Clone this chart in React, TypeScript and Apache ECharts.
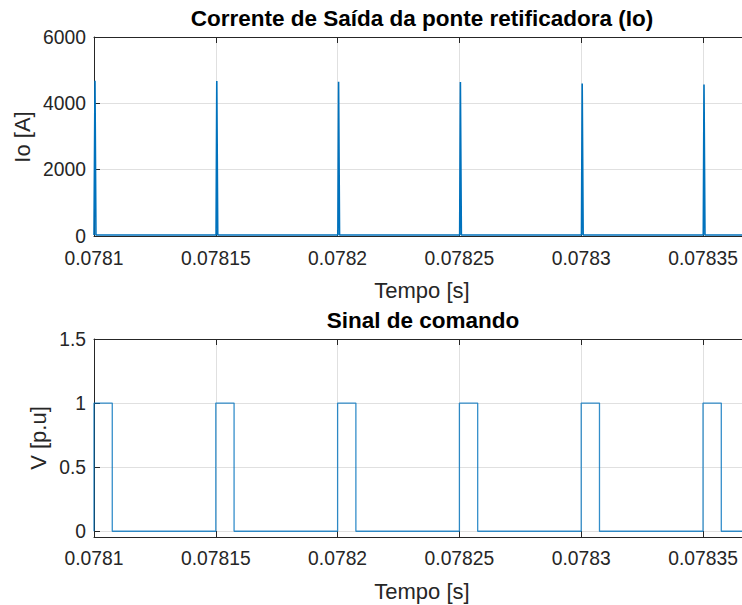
import React, { useEffect, useRef } from "react";
import * as echarts from "echarts";

// ---- Data ----
// X tick labels (seconds)
const xTickStart = 0.0781;
const xTickStep = 0.00005;
const xEnd = 0.078366;

// Top plot: output current Io [A] (narrow spikes at each period start)
const ioTime = [
  0.0781, 0.0781001, 0.0781004, 0.0781008,
  0.0781501, 0.0781504, 0.0781508,
  0.0782001, 0.0782004, 0.0782008,
  0.0782501, 0.0782504, 0.0782508,
  0.0783001, 0.0783004, 0.0783008,
  0.0783501, 0.0783504, 0.0783508,
  0.078366,
];
const ioValue = [
  30, 30, 4680, 30,
  30, 4670, 30,
  30, 4650, 30,
  30, 4640, 30,
  30, 4600, 30,
  30, 4570, 30,
  30,
];

// Bottom plot: command signal V [p.u]
const cmdTime = [
  0.0781, 0.0781, 0.0781075, 0.0781075,
  0.07815, 0.07815, 0.0781575, 0.0781575,
  0.0782, 0.0782, 0.0782075, 0.0782075,
  0.07825, 0.07825, 0.0782575, 0.0782575,
  0.0783, 0.0783, 0.0783075, 0.0783075,
  0.07835, 0.07835, 0.0783575, 0.0783575,
  0.078366,
];
const cmdValue = [
  0, 1, 1, 0,
  0, 1, 1, 0,
  0, 1, 1, 0,
  0, 1, 1, 0,
  0, 1, 1, 0,
  0, 1, 1, 0,
  0,
];

// Y axis ranges / ticks
const ioYMin = 0;
const ioYMax = 6000;
const ioYStep = 2000;
const cmdYMin = -0.045;
const cmdYMax = 1.5;
const cmdYStep = 0.5;

const titleTop = "Corrente de Saída da ponte retificadora (Io)";
const titleBottom = "Sinal de comando";
const yLabelTop = "Io [A]";
const yLabelBottom = "V [p.u]";
const xLabel = "Tempo [s]";

const FONT = '"Liberation Sans", Arial, Helvetica, sans-serif';
const AX = "#262626";
const GRIDC = "#e0e0e0";
const LINE = "#0072BD";

function pairs(t: number[], v: number[]) {
  return t.map((x, i) => [x, v[i]]);
}

const xFmt = (v: number) => {
  const r = Math.round((v - xTickStart) / xTickStep);
  if (Math.abs(xTickStart + r * xTickStep - v) > 1e-9) return "";
  return String(parseFloat(v.toFixed(5)));
};

function bottomX(gridIndex: number, margin: number) {
  return {
    type: "value",
    gridIndex,
    position: "bottom",
    min: xTickStart,
    max: xEnd,
    interval: xTickStep,
    axisLine: { show: true, onZero: false, lineStyle: { color: AX, width: 1 } },
    axisTick: { show: true, inside: true, length: 6, lineStyle: { color: AX } },
    axisLabel: {
      show: true,
      margin,
      color: AX,
      fontSize: 19.3,
      fontFamily: FONT,
      showMaxLabel: false,
      formatter: xFmt,
    },
    splitLine: { show: true, lineStyle: { color: GRIDC, width: 1 } },
  };
}

function topX(gridIndex: number) {
  return {
    type: "value",
    gridIndex,
    position: "top",
    min: xTickStart,
    max: xEnd,
    interval: xTickStep,
    axisLine: { show: true, onZero: false, lineStyle: { color: AX, width: 1 } },
    axisTick: { show: true, inside: true, length: 6, lineStyle: { color: AX } },
    axisLabel: { show: false },
    splitLine: { show: false },
  };
}

export default function App() {
  const ref = useRef<HTMLDivElement>(null);
  useEffect(() => {
    if (!ref.current) return;
    const chart = echarts.init(ref.current, undefined, { renderer: "svg" });
    const yLabelStyle = {
      color: AX,
      fontSize: 19.3,
      fontFamily: FONT,
      margin: 8,
      verticalAlign: "middle",
      padding: [6, 0, 0, 0],
    };
    chart.setOption({
      animation: false,
      backgroundColor: "#ffffff",
      grid: [
        { left: 94, top: 37, right: 0, height: 199 },
        { left: 94, top: 339, right: 0, height: 198 },
      ],
      xAxis: [bottomX(0, 13), topX(0), bottomX(1, 12), topX(1)],
      yAxis: [
        {
          type: "value",
          gridIndex: 0,
          min: ioYMin,
          max: ioYMax,
          interval: ioYStep,
          axisLine: { show: true, onZero: false, lineStyle: { color: AX, width: 1 } },
          axisTick: { show: true, inside: true, length: 6, lineStyle: { color: AX } },
          axisLabel: { ...yLabelStyle, formatter: (v: number) => String(v) },
          splitLine: { show: true, lineStyle: { color: GRIDC, width: 1 } },
        },
        {
          type: "value",
          gridIndex: 1,
          min: cmdYMin,
          max: cmdYMax,
          splitNumber: 3,
          minInterval: cmdYStep,
          maxInterval: cmdYStep,
          axisLine: { show: true, onZero: false, lineStyle: { color: AX, width: 1 } },
          axisTick: { show: true, inside: true, length: 6, lineStyle: { color: AX } },
          axisLabel: {
            ...yLabelStyle,
            formatter: (v: number) => (v < -0.01 ? "" : String(parseFloat(v.toFixed(2)))),
          },
          splitLine: { show: true, lineStyle: { color: GRIDC, width: 1 } },
        },
      ],
      series: [
        {
          type: "line",
          xAxisIndex: 0,
          yAxisIndex: 0,
          data: pairs(ioTime, ioValue),
          showSymbol: false,
          symbol: "none",
          lineStyle: { color: LINE, width: 1.6 },
          silent: true,
        },
        {
          type: "line",
          xAxisIndex: 2,
          yAxisIndex: 1,
          data: pairs(cmdTime, cmdValue),
          showSymbol: false,
          symbol: "none",
          lineStyle: { color: LINE, width: 1.3, opacity: 0.8 },
          silent: true,
        },
      ],
      graphic: [
        {
          type: "text",
          x: 422,
          y: 18,
          style: {
            text: titleTop,
            fill: "#000",
            font: `bold 22.5px ${FONT}`,
            align: "center",
            verticalAlign: "middle",
          },
        },
        {
          type: "text",
          x: 423,
          y: 320.5,
          style: {
            text: titleBottom,
            fill: "#000",
            font: `bold 22.5px ${FONT}`,
            align: "center",
            verticalAlign: "middle",
          },
        },
        {
          type: "text",
          x: 422,
          y: 290,
          style: {
            text: xLabel,
            fill: AX,
            font: `22px ${FONT}`,
            align: "center",
            verticalAlign: "middle",
          },
        },
        {
          type: "text",
          x: 422,
          y: 591,
          style: {
            text: xLabel,
            fill: AX,
            font: `22px ${FONT}`,
            align: "center",
            verticalAlign: "middle",
          },
        },
        {
          type: "text",
          x: 22,
          y: 137,
          rotation: Math.PI / 2,
          style: {
            text: yLabelTop,
            fill: AX,
            font: `22px ${FONT}`,
            align: "center",
            verticalAlign: "middle",
          },
        },
        {
          type: "text",
          x: 38,
          y: 438,
          rotation: Math.PI / 2,
          style: {
            text: yLabelBottom,
            fill: AX,
            font: `22px ${FONT}`,
            align: "center",
            verticalAlign: "middle",
          },
        },
      ],
    });
    return () => chart.dispose();
  }, []);
  return (
    <div
      ref={ref}
      style={{ position: "fixed", left: 0, top: 0, width: 742, height: 605, background: "#fff" }}
    />
  );
}
